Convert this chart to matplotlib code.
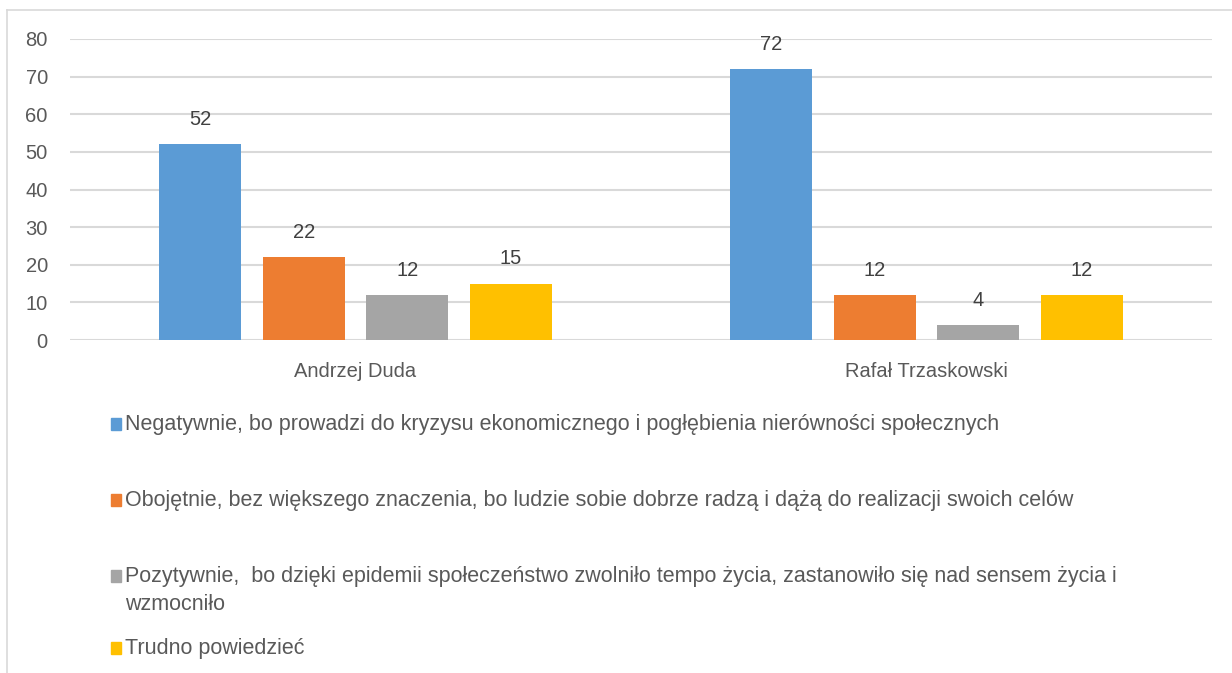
import matplotlib.pyplot as plt
from matplotlib.patches import Rectangle
from matplotlib.lines import Line2D

# data
candidates = ['Andrzej Duda', 'Rafał Trzaskowski']
series_names = [
    'Negatywnie, bo prowadzi do kryzysu ekonomicznego i pogłębienia nierówności społecznych',
    'Obojętnie, bez większego znaczenia, bo ludzie sobie dobrze radzą i dążą do realizacji swoich celów',
    'Pozytywnie,  bo dzięki epidemii społeczeństwo zwolniło tempo życia, zastanowiło się nad sensem życia i\nwzmocniło',
    'Trudno powiedzieć',
]
negatywnie = [52, 72]
obojetnie = [22, 12]
pozytywnie = [12, 4]
trudno = [15, 12]
colors = ['#5b9bd5', '#ed7d31', '#a5a5a5', '#ffc000']

plt.rcParams['font.family'] = ['Liberation Sans', 'DejaVu Sans']

fig = plt.figure(figsize=(12.32, 6.73), dpi=100)
ax = fig.add_axes([70 / 1232, 1 - 340 / 673, 1142 / 1232, 301 / 673])

width = 0.1436
step = 0.181
all_series = [negatywnie, obojetnie, pozytywnie, trudno]
for i, vals in enumerate(all_series):
    xs = [c + (i - 1.5) * step for c in range(len(candidates))]
    bars = ax.bar(xs, vals, width=width, color=colors[i], zorder=3)
    for b, v in zip(bars, vals):
        ax.annotate(str(v), (b.get_x() + b.get_width() / 2, v), xytext=(0, 11),
                    textcoords='offset points', ha='center', va='bottom',
                    fontsize=14.5, color='#404040')

ax.set_xlim(-0.5, 1.5)
ax.set_ylim(0, 80)
ax.set_yticks(range(0, 81, 10))
ax.set_xticks(range(len(candidates)))
ax.set_xticklabels(candidates)
ax.grid(axis='y', color='#d9d9d9', linewidth=1.5, zorder=0)
for s in ax.spines.values():
    s.set_visible(False)
ax.tick_params(length=0, labelsize=14.5, labelcolor='#595959')
ax.tick_params(axis='y', pad=16)
ax.tick_params(axis='x', pad=16)

# legend drawn by hand to keep Excel-like spacing
legend_y = [424, 500, 576, 648]
for name, col, y in zip(series_names, colors, legend_y):
    fig.add_artist(Rectangle((111 / 1232, 1 - (y + 6) / 673), 10 / 1232, 12 / 673,
                             transform=fig.transFigure, color=col))
    fig.text(125 / 1232, 1 - (y - 10) / 673, name, ha='left', va='top',
             fontsize=15.5, color='#595959', linespacing=1.42)

# outer frame
fig.add_artist(Line2D([7 / 1232, 7 / 1232], [0, 1 - 10 / 673], transform=fig.transFigure,
                      color='#d9d9d9', linewidth=1.2))
fig.add_artist(Line2D([7 / 1232, 1], [1 - 10 / 673, 1 - 10 / 673], transform=fig.transFigure,
                      color='#d9d9d9', linewidth=1.2))

fig.savefig('out.png', dpi=100)
